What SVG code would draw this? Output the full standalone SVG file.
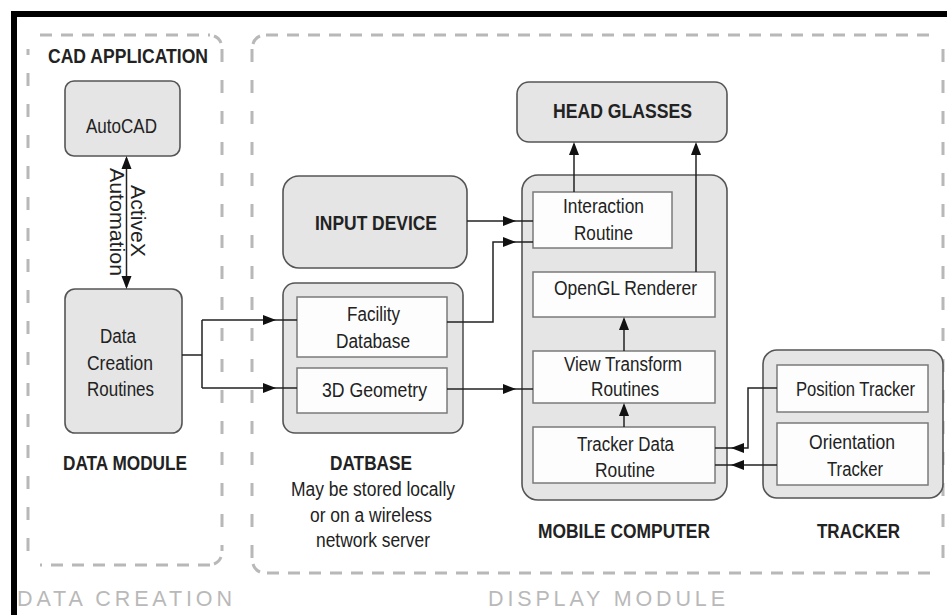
<svg xmlns="http://www.w3.org/2000/svg" xmlns:xlink="http://www.w3.org/1999/xlink" width="947" height="615" viewBox="0 0 947 615">
<style>
.dh{fill:none;stroke:#b8b8b8;stroke-width:3;stroke-dasharray:12 9}
.dv{fill:none;stroke:#b8b8b8;stroke-width:3;stroke-dasharray:13 18}
.dc{fill:none;stroke:#b8b8b8;stroke-width:3}
.outer{fill:#e5e5e5;stroke:#555;stroke-width:1.6}
.inner{fill:#fdfdfd;stroke:#7a7a7a;stroke-width:1.5}
.t{font-family:"Liberation Sans",Arial,Helvetica,sans-serif;font-size:20px;fill:#222;text-anchor:middle}
.b{font-weight:bold}
.g{font-family:"Liberation Sans",Arial,Helvetica,sans-serif;font-size:21.5px;fill:#b9b9b9;text-anchor:middle}
.conn{fill:none;stroke:#222;stroke-width:1.5}
.ah{fill:#111}
</style>
<defs>
<path id="ah" d="M0,0 L-13,-5 L-13,5 Z"/>
</defs>
<rect x="0" y="0" width="947" height="615" fill="#fff"/>
<rect x="11" y="11" width="936" height="6" fill="#000"/>
<rect x="11" y="11" width="6" height="604" fill="#000"/>

<g id="data-creation-region">
<path class="dh" d="M40,35 H210 M210,565 H40"/>
<path class="dv" d="M222,49 V551 M28,551 V49"/>
<path class="dc" d="M214,36 A12,12 0 0 1 221,43 M221,557 A12,12 0 0 1 214,564"/>
<text class="g" x="124.5" y="606" textLength="215" lengthAdjust="spacing">DATA CREATION</text>
</g>
<g id="display-module-region">
<path class="dh" d="M266,35 H930 M930,573 H266"/>
<path class="dv" d="M252,49 V559 M943,49 V559"/>
<path class="dc" d="M253,44 A12,12 0 0 1 260,36 M260,572 A12,12 0 0 1 253,564"/>
<text class="g" x="606.5" y="606" textLength="237" lengthAdjust="spacing">DISPLAY MODULE</text>
</g>

<g id="cad-application">
<text class="t b" x="128" y="63" textLength="160" lengthAdjust="spacingAndGlyphs">CAD APPLICATION</text>
</g>
<g id="autocad">
<rect class="outer" x="65" y="81" width="115" height="75" rx="9"/>
<text class="t" x="121.5" y="133" textLength="71" lengthAdjust="spacingAndGlyphs">AutoCAD</text>
</g>
<g id="data-creation-routines">
<rect class="outer" x="65" y="289" width="117" height="144" rx="10"/>
<text class="t" x="118" y="343" textLength="36" lengthAdjust="spacingAndGlyphs">Data</text>
<text class="t" x="120" y="370" textLength="66" lengthAdjust="spacingAndGlyphs">Creation</text>
<text class="t" x="120.5" y="396" textLength="67" lengthAdjust="spacingAndGlyphs">Routines</text>
</g>
<g id="data-module">
<text class="t b" x="125" y="470" textLength="124" lengthAdjust="spacingAndGlyphs">DATA MODULE</text>
</g>

<g id="input-device">
<rect class="outer" x="283" y="176" width="184" height="92" rx="16"/>
<text class="t b" x="376" y="230" textLength="122" lengthAdjust="spacingAndGlyphs">INPUT DEVICE</text>
</g>
<g id="database">
<rect class="outer" x="283" y="283" width="180" height="150" rx="12"/>
<text class="t b" x="371" y="470" textLength="82" lengthAdjust="spacingAndGlyphs">DATBASE</text>
<text class="t" x="373" y="496" textLength="164" lengthAdjust="spacingAndGlyphs">May be stored locally</text>
<text class="t" x="371" y="522" textLength="122" lengthAdjust="spacingAndGlyphs">or on a wireless</text>
<text class="t" x="373" y="547" textLength="114" lengthAdjust="spacingAndGlyphs">network server</text>
</g>
<g id="facility-database">
<rect class="inner" x="297" y="297" width="150" height="60"/>
<text class="t" x="373.5" y="321" textLength="53" lengthAdjust="spacingAndGlyphs">Facility</text>
<text class="t" x="373" y="348" textLength="74" lengthAdjust="spacingAndGlyphs">Database</text>
</g>
<g id="geometry-3d">
<rect class="inner" x="297" y="368" width="150" height="45"/>
<text class="t" x="374.5" y="397" textLength="105" lengthAdjust="spacingAndGlyphs">3D Geometry</text>
</g>

<g id="head-glasses">
<rect class="outer" x="517" y="82" width="210" height="60" rx="12"/>
<text class="t b" x="622.5" y="118" textLength="139" lengthAdjust="spacingAndGlyphs">HEAD GLASSES</text>
</g>
<g id="mobile-computer">
<rect class="outer" x="522" y="175" width="205" height="325" rx="16"/>
<text class="t b" x="624" y="538" textLength="172" lengthAdjust="spacingAndGlyphs">MOBILE COMPUTER</text>
</g>
<g id="interaction-routine">
<rect class="inner" x="533" y="192" width="139" height="56"/>
<text class="t" x="603.5" y="213" textLength="81" lengthAdjust="spacingAndGlyphs">Interaction</text>
<text class="t" x="603.5" y="240" textLength="59" lengthAdjust="spacingAndGlyphs">Routine</text>
</g>
<g id="opengl-renderer">
<rect class="inner" x="533" y="272" width="182" height="45"/>
<text class="t" x="625.5" y="295" textLength="143" lengthAdjust="spacingAndGlyphs">OpenGL Renderer</text>
</g>
<g id="view-transform">
<rect class="inner" x="533" y="351" width="182" height="52"/>
<text class="t" x="623" y="371" textLength="118" lengthAdjust="spacingAndGlyphs">View Transform</text>
<text class="t" x="625" y="396" textLength="68" lengthAdjust="spacingAndGlyphs">Routines</text>
</g>
<g id="tracker-data-routine">
<rect class="inner" x="533" y="427" width="182" height="56"/>
<text class="t" x="625.5" y="451" textLength="97" lengthAdjust="spacingAndGlyphs">Tracker Data</text>
<text class="t" x="625" y="477" textLength="60" lengthAdjust="spacingAndGlyphs">Routine</text>
</g>

<g id="tracker">
<rect class="outer" x="763" y="350" width="180" height="148" rx="14"/>
<text class="t b" x="858.5" y="538" textLength="83" lengthAdjust="spacingAndGlyphs">TRACKER</text>
</g>
<g id="position-tracker">
<rect class="inner" x="777" y="365" width="151" height="47"/>
<text class="t" x="855.5" y="396" textLength="119" lengthAdjust="spacingAndGlyphs">Position Tracker</text>
</g>
<g id="orientation-tracker">
<rect class="inner" x="777" y="423" width="151" height="62"/>
<text class="t" x="852" y="449" textLength="86" lengthAdjust="spacingAndGlyphs">Orientation</text>
<text class="t" x="855" y="476" textLength="56" lengthAdjust="spacingAndGlyphs">Tracker</text>
</g>

<g id="connectors">
<path class="conn" d="M126.5,158 V287"/>
<use href="#ah" xlink:href="#ah" class="ah" transform="translate(126.5,156) rotate(-90)"/>
<use href="#ah" xlink:href="#ah" class="ah" transform="translate(126.5,289) rotate(90)"/>
<text class="t" transform="translate(131,221) rotate(90)" textLength="72" lengthAdjust="spacingAndGlyphs">ActiveX</text>
<text class="t" transform="translate(110,222) rotate(90)" textLength="108" lengthAdjust="spacingAndGlyphs">Automation</text>

<path class="conn" d="M182,355 H202 M202,320 V388 M202,320 H297 M202,388 H297"/>
<use href="#ah" xlink:href="#ah" class="ah" transform="translate(276,320)"/>
<use href="#ah" xlink:href="#ah" class="ah" transform="translate(276,388)"/>

<path class="conn" d="M447,322 H493 V242 H533"/>
<use href="#ah" xlink:href="#ah" class="ah" transform="translate(516,242)"/>
<path class="conn" d="M467,221 H533"/>
<use href="#ah" xlink:href="#ah" class="ah" transform="translate(516,221)"/>
<path class="conn" d="M447,389 H533"/>
<use href="#ah" xlink:href="#ah" class="ah" transform="translate(516,389)"/>

<path class="conn" d="M574,192 V144"/>
<use href="#ah" xlink:href="#ah" class="ah" transform="translate(574,142) rotate(-90)"/>
<path class="conn" d="M696,272 V144"/>
<use href="#ah" xlink:href="#ah" class="ah" transform="translate(696,142) rotate(-90)"/>

<path class="conn" d="M624,351 V319"/>
<use href="#ah" xlink:href="#ah" class="ah" transform="translate(624,317) rotate(-90)"/>
<path class="conn" d="M624,427 V405"/>
<use href="#ah" xlink:href="#ah" class="ah" transform="translate(624,403) rotate(-90)"/>

<path class="conn" d="M777,388 H748 V448 H715"/>
<use href="#ah" xlink:href="#ah" class="ah" transform="translate(731,448) rotate(180)"/>
<path class="conn" d="M777,465 H715"/>
<use href="#ah" xlink:href="#ah" class="ah" transform="translate(731,465) rotate(180)"/>
</g>
</svg>
